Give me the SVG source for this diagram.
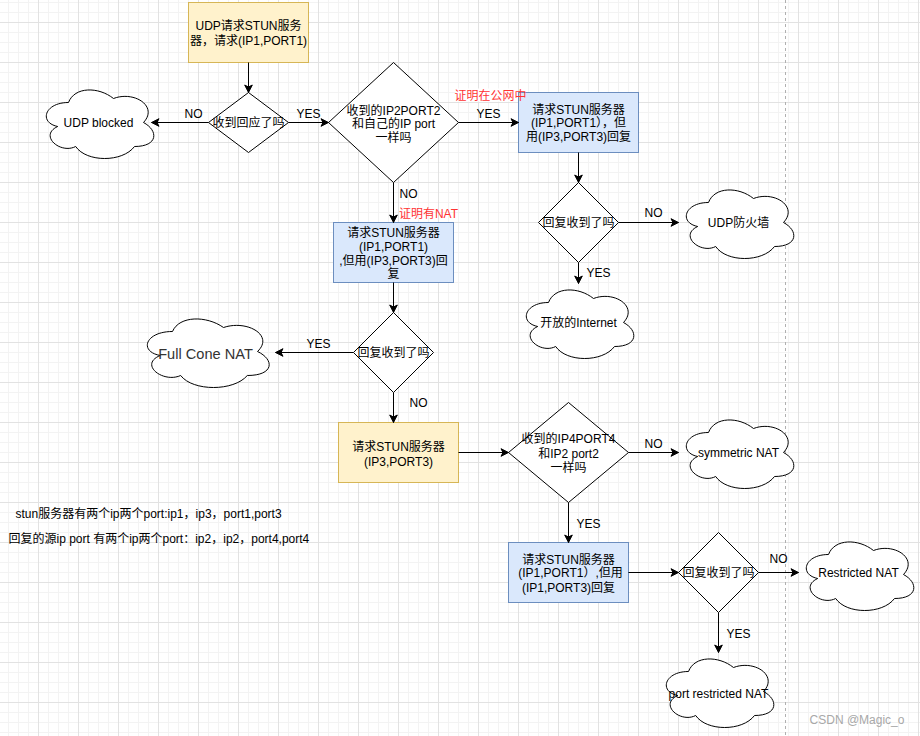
<svg xmlns="http://www.w3.org/2000/svg" width="920" height="736" viewBox="0 0 920 736">
<style>
text{font-family:"Liberation Sans","Noto Sans CJK SC",sans-serif;font-size:12px;fill:#000;text-anchor:middle}
.l{text-anchor:start}
.box-y{fill:#fff2cc;stroke:#d6b656;stroke-width:1}
.box-b{fill:#dae8fc;stroke:#6c8ebf;stroke-width:1}
.dia{fill:#fff;stroke:#000;stroke-width:1}
.cloud{fill:#fff;stroke:#000;stroke-width:1}
.edge{fill:none;stroke:#000;stroke-width:1;marker-end:url(#arr)}
.red{fill:#ff3333}
</style>
<defs>
<pattern id="grid" x="-2" y="-18" width="40" height="40" patternUnits="userSpaceOnUse">
<path d="M10.5 0V40M20.5 0V40M30.5 0V40M0 10.5H40M0 20.5H40M0 30.5H40" stroke="#f3f3f3" stroke-width="1" fill="none"/>
<path d="M0.5 0V40M0 0.5H40" stroke="#e2e2e2" stroke-width="1" fill="none"/>
</pattern>
<marker id="arr" markerWidth="10" markerHeight="10" refX="9" refY="5" orient="auto" markerUnits="userSpaceOnUse">
<path d="M1.5,1.2 L9,5 L1.5,8.8 L3.5,5 Z" fill="#000" stroke="#000" stroke-width="1"/>
</marker>
<path id="cloud" d="M30,20 C6,20 0,40 19.2,44 C0,52.8 21.6,72 37.2,64 C48,80 84,80 96,64 C120,64 120,48 105,40 C120,24 96,8 75,16 C60,4 36,4 30,20 Z"/>
</defs>
<rect width="920" height="736" fill="#fff"/>
<rect width="920" height="736" fill="url(#grid)"/>
<line x1="785.5" y1="0" x2="785.5" y2="736" stroke="#b0b0b0" stroke-width="1" stroke-dasharray="3,3"/>

<g transform="translate(0.5,0.5)">
<g id="n-start">
<rect class="box-y" x="188" y="2" width="120" height="60"/>
<text x="248" y="29.5">UDP请求STUN服务</text>
<text x="248" y="44">器，请求(IP1,PORT1)</text>
</g>
<g id="d-response">
<polygon class="dia" points="248,92 288,122 248,152 208,122"/>
<text x="248" y="126.3">收到回应了吗</text>
</g>
<g id="c-udp-blocked">
<use href="#cloud" class="cloud" x="38" y="82"/>
<text x="98" y="126.3">UDP blocked</text>
</g>
<g id="d-same-ip">
<polygon class="dia" points="393,62 458,122 393,182 328,122"/>
<text x="393" y="114.3">收到的IP2PORT2</text>
<text x="393" y="127.6">和自己的IP port</text>
<text x="393" y="141">一样吗</text>
</g>
<g id="n-req-public">
<rect class="box-b" x="518" y="92" width="120" height="60"/>
<text x="578" y="113.3">请求STUN服务器</text>
<text x="578" y="126.6">(IP1,PORT1），但</text>
<text x="578" y="140.6">用(IP3,PORT3)回复</text>
</g>
<g id="d-reply-public">
<polygon class="dia" points="578,182 618,222 578,262 538,222"/>
<text x="578" y="226.3">回复收到了吗</text>
</g>
<g id="c-firewall">
<use href="#cloud" class="cloud" x="678" y="182"/>
<text x="738" y="226.3">UDP防火墙</text>
</g>
<g id="c-open-internet">
<use href="#cloud" class="cloud" x="518" y="282"/>
<text x="578" y="326.5">开放的Internet</text>
</g>
<g id="n-req-nat">
<rect class="box-b" x="333" y="222" width="120" height="60"/>
<text x="393" y="236.5">请求STUN服务器</text>
<text x="393" y="250">(IP1,PORT1)</text>
<text x="393" y="264">,但用(IP3,PORT3)回</text>
<text x="393" y="277.5">复</text>
</g>
<g id="d-reply-nat">
<polygon class="dia" points="393,312 433,352 393,392 353,352"/>
<text x="393" y="356.3">回复收到了吗</text>
</g>
<g id="c-full-cone">
<path class="cloud" d="M172,331 C144.8,331 138,351 159.76,355 C138,363.8 162.48,383 180.16,375 C192.4,391 233.2,391 246.8,375 C274,375 274,359 257,351 C274,335 246.8,319 223,327 C206,315 178.8,315 172,331 Z"/>
<text x="205" y="358.5" style="font-size:14.6px;fill:#333">Full Cone NAT</text>
</g>
<g id="n-req-ip3">
<rect class="box-y" x="338" y="422" width="120" height="60"/>
<text x="398" y="450">请求STUN服务器</text>
<text x="398" y="465">(IP3,PORT3)</text>
</g>
<g id="d-same-ip4">
<polygon class="dia" points="568,402 628,452 568,502 508,452"/>
<text x="568" y="442">收到的IP4PORT4</text>
<text x="568" y="457">和IP2 port2</text>
<text x="568" y="471">一样吗</text>
</g>
<g id="c-symmetric">
<use href="#cloud" class="cloud" x="678" y="412"/>
<text x="738" y="456.3">symmetric NAT</text>
</g>
<g id="n-req-port3">
<rect class="box-b" x="508" y="542" width="120" height="60"/>
<text x="568" y="563.3">请求STUN服务器</text>
<text x="570" y="576.6">(IP1,PORT1）,但用</text>
<text x="568" y="591">(IP1,PORT3)回复</text>
</g>
<g id="d-reply-port3">
<polygon class="dia" points="718,532 758,572 718,612 678,572"/>
<text x="718" y="576.3">回复收到了吗</text>
</g>
<g id="c-restricted">
<use href="#cloud" class="cloud" x="798" y="534"/>
<text x="858" y="576.3">Restricted NAT</text>
</g>
<g id="c-port-restricted">
<use href="#cloud" class="cloud" x="658" y="651"/>
<text x="718" y="697">port restricted NAT</text>
</g>
<g id="notes">
<text class="l" x="15" y="517.6">stun服务器有两个ip两个port:ip1，ip3，port1,port3</text>
<text class="l" x="8" y="542">回复的源ip port 有两个ip两个port：ip2，ip2，port4,port4</text>
</g>

<g id="connectors">
<line class="edge" x1="248" y1="62" x2="248" y2="92"/>
<line class="edge" x1="208" y1="122" x2="151" y2="122"/>
<line class="edge" x1="288" y1="122" x2="328" y2="122"/>
<line class="edge" x1="458" y1="122" x2="518" y2="122"/>
<line class="edge" x1="393" y1="182" x2="393" y2="222"/>
<line class="edge" x1="578" y1="152" x2="578" y2="182"/>
<line class="edge" x1="618" y1="222" x2="678" y2="222"/>
<line class="edge" x1="578" y1="262" x2="578" y2="283"/>
<line class="edge" x1="393" y1="282" x2="393" y2="312"/>
<line class="edge" x1="353" y1="352" x2="275" y2="352"/>
<line class="edge" x1="393" y1="392" x2="393" y2="422"/>
<line class="edge" x1="458" y1="452" x2="508" y2="452"/>
<line class="edge" x1="628" y1="452" x2="678" y2="452"/>
<line class="edge" x1="568" y1="502" x2="568" y2="542"/>
<line class="edge" x1="628" y1="572" x2="678" y2="572"/>
<line class="edge" x1="758" y1="572" x2="798" y2="572"/>
<line class="edge" x1="718" y1="612" x2="718" y2="652"/>
<text x="193" y="117.5">NO</text>
<text x="308" y="117.5">YES</text>
<text x="488" y="117">YES</text>
<rect x="455" y="88" width="62" height="13" fill="#fff"/>
<text class="red" x="490" y="99.5">证明在公网中</text>
<text x="408" y="197">NO</text>
<text class="red" x="428" y="217">证明有NAT</text>
<text x="653" y="216.5">NO</text>
<text x="598" y="276.5">YES</text>
<text x="318" y="347">YES</text>
<text x="418" y="406.5">NO</text>
<text x="653" y="447">NO</text>
<text x="588" y="527">YES</text>
<text x="778" y="562">NO</text>
<text x="738" y="637">YES</text>
</g>
</g>
<text x="857" y="724" style="fill:#a8a8a8">CSDN @Magic_o</text>
</svg>
